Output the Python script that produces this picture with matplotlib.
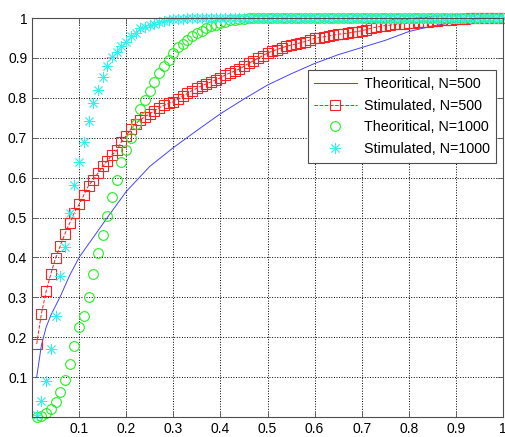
import numpy as np
import matplotlib
matplotlib.use("Agg")
import matplotlib.pyplot as plt

plt.rcParams['font.family'] = ['Liberation Sans', 'DejaVu Sans']

# probability values, x = 0.01 ... 1.00
x = np.round(np.arange(1, 101) * 0.01, 2)

# Theoritical, N=500 (line, read at selected x positions)
theo500_x = [0.01, 0.02, 0.03, 0.04, 0.06, 0.08, 0.10, 0.13, 0.16, 0.20,
             0.25, 0.30, 0.35, 0.40, 0.45, 0.50, 0.55, 0.60, 0.65, 0.70,
             0.75, 0.80, 0.85, 0.90, 0.95, 1.00]
theo500_y = [0.100, 0.180, 0.225, 0.255, 0.302, 0.355, 0.400, 0.450, 0.500, 0.565,
             0.628, 0.675, 0.718, 0.760, 0.797, 0.832, 0.860, 0.886, 0.908, 0.926,
             0.944, 0.966, 0.980, 0.990, 0.998, 1.000]

# Stimulated, N=500
sim500 = [0.183, 0.259, 0.315, 0.359, 0.398, 0.429, 0.459, 0.486, 0.512, 0.533,
          0.556, 0.580, 0.594, 0.611, 0.628, 0.642, 0.657, 0.668, 0.690, 0.705,
          0.722, 0.735, 0.745, 0.753, 0.760, 0.768, 0.775, 0.781, 0.786, 0.790,
          0.797, 0.804, 0.811, 0.818, 0.824, 0.830, 0.835, 0.840, 0.845, 0.850,
          0.857, 0.862, 0.867, 0.872, 0.879, 0.886, 0.893, 0.899, 0.906, 0.912,
          0.917, 0.921, 0.925, 0.929, 0.932, 0.935, 0.938, 0.941, 0.945, 0.949,
          0.951, 0.953, 0.955, 0.957, 0.959, 0.961, 0.962, 0.964, 0.966, 0.968,
          0.971, 0.974, 0.977, 0.979, 0.981, 0.982, 0.984, 0.985, 0.986, 0.987,
          0.988, 0.989, 0.990, 0.991, 0.992, 0.993, 0.994, 0.995, 0.996, 0.997,
          0.998, 0.998, 0.999, 0.999, 1.0, 1.0, 1.0, 1.0, 1.0, 1.0]

# Theoritical, N=1000
theo1000 = [0.000, 0.002, 0.010, 0.021, 0.038, 0.062, 0.092, 0.133, 0.178, 0.225,
            0.254, 0.302, 0.359, 0.410, 0.457, 0.503, 0.551, 0.594, 0.640, 0.668,
            0.700, 0.735, 0.773, 0.795, 0.817, 0.840, 0.861, 0.879, 0.894, 0.913,
            0.928, 0.936, 0.946, 0.955, 0.962, 0.968, 0.974, 0.979, 0.983, 0.987,
            0.991, 0.994, 0.996, 0.997, 0.998, 0.999] + [1.0] * 54

# Stimulated, N=1000
sim1000 = [0.006, 0.040, 0.090, 0.170, 0.252, 0.354, 0.427, 0.512, 0.581, 0.638,
           0.690, 0.743, 0.787, 0.820, 0.852, 0.879, 0.903, 0.915, 0.930, 0.940,
           0.955, 0.963, 0.974, 0.978, 0.982, 0.986, 0.990, 0.993, 0.995, 0.997,
           0.998, 0.998, 0.999, 0.999] + [1.0] * 66

ticks = [0.1, 0.2, 0.3, 0.4, 0.5, 0.6, 0.7, 0.8, 0.9, 1.0]
tick_labels = ['0.1', '0.2', '0.3', '0.4', '0.5', '0.6', '0.7', '0.8', '0.9', '1']

fig = plt.figure(figsize=(5.05, 4.37), dpi=100)
ax = fig.add_axes([32 / 505, 20 / 437, 471 / 505, 399 / 437])

ax.plot(theo500_x, theo500_y, '-', color='#4444ff', lw=0.7,
        label='Theoritical, N=500')
ax.plot(x, sim500, '--', color='#ff2020', lw=0.7, marker='s', ms=7,
        mfc='none', mec='#ff2020', mew=0.8, clip_on=False,
        label='Stimulated, N=500')
ax.plot(x, theo1000, 'o', color='#22ee22', ms=7, mfc='none', mew=0.8,
        clip_on=False, label='Theoritical, N=1000')
ax.plot(x, sim1000, ls='none', marker=(8, 2, 0), color='#33f0f0', ms=8,
        mew=0.6, clip_on=False, label='Stimulated, N=1000')

ax.set_xlim(0, 1)
ax.set_ylim(0, 1)
ax.set_xticks(ticks)
ax.set_xticklabels(tick_labels)
ax.set_yticks(ticks)
ax.set_yticklabels(tick_labels)
ax.tick_params(direction='in', length=4, width=0.6, labelsize=10,
               top=True, right=True, colors='0.35', labelcolor='black')
ax.grid(True, color='black', linestyle=':', linewidth=0.7)
for s in ax.spines.values():
    s.set_linewidth(0.8)
    s.set_color('0.3')

leg = ax.legend(loc='upper left', bbox_to_anchor=(0.585, 0.869),
                borderaxespad=0, fontsize=10.3, fancybox=False, framealpha=1,
                edgecolor='0.3', handlelength=3.0, labelspacing=0.55,
                borderpad=0.45, handletextpad=0.5)
leg.get_frame().set_linewidth(0.8)

fig.savefig('out.png', dpi=100, facecolor='white')
